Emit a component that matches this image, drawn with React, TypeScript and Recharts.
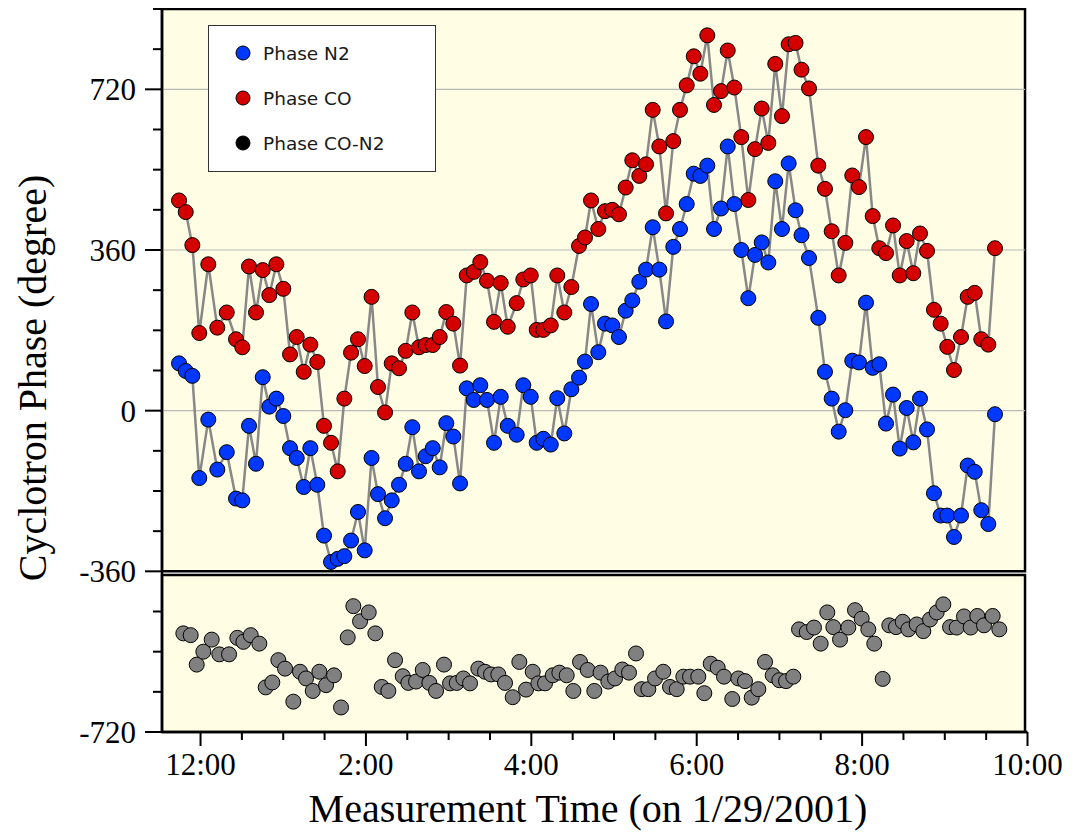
import React from 'react';
import { ComposedChart, Scatter, XAxis, YAxis, ReferenceArea, ReferenceLine, Legend, Label } from 'recharts';

// measurement times (decimal hours) shared by Phase N2 and Phase CO
const times = [
  11.740, 11.821, 11.901, 11.985, 12.094, 12.203, 12.317, 12.429, 12.505, 12.586,
  12.671, 12.752, 12.832, 12.917, 13.001, 13.082, 13.163, 13.248, 13.328, 13.412,
  13.493, 13.578, 13.659, 13.739, 13.820, 13.904, 13.985, 14.068, 14.146, 14.231,
  14.312, 14.400, 14.481, 14.561, 14.642, 14.723, 14.808, 14.892, 14.972, 15.057,
  15.138, 15.219, 15.304, 15.383, 15.464, 15.549, 15.630, 15.715, 15.823, 15.903,
  15.993, 16.065, 16.145, 16.235, 16.314, 16.399, 16.484, 16.577, 16.649, 16.722,
  16.810, 16.891, 16.979, 17.060, 17.141, 17.221, 17.306, 17.387, 17.468, 17.548,
  17.629, 17.717, 17.798, 17.879, 17.964, 18.044, 18.128, 18.209, 18.294, 18.375,
  18.455, 18.539, 18.624, 18.705, 18.786, 18.866, 18.950, 19.031, 19.112, 19.195,
  19.267, 19.358, 19.470, 19.551, 19.632, 19.717, 19.797, 19.881, 19.962, 20.047,
  20.128, 20.208, 20.289, 20.374, 20.455, 20.539, 20.619, 20.700, 20.785, 20.869,
  20.950, 21.030, 21.111, 21.196, 21.277, 21.362, 21.441, 21.526, 21.607,
];

const phaseN2 = [
  106, 89, 78, -151, -20, -132, -93, -197, -201, -34,
  -119, 75, 9, 27, -12, -84, -106, -171, -84, -166,
  -280, -339, -332, -326, -291, -227, -313, -106, -187, -241,
  -201, -166, -119, -37, -136, -102, -84, -127, -28, -58,
  -163, 50, 24, 57, 24, -72, 31, -34, -54, 57,
  31, -72, -63, -76, 28, -51, 48, 74, 110, 239,
  131, 195, 191, 165, 224, 247, 289, 316, 411, 316,
  200, 367, 407, 463, 531, 526, 549, 407, 453, 592,
  463, 360, 252, 349, 377, 332, 514, 407, 554, 449,
  393, 342, 208, 87, 27, -47, 1, 112, 108, 242,
  96, 104, -29, 36, -85, 6, -71, 27, -42, -185,
  -235, -235, -283, -235, -123, -137, -223, -254, -8,
];

const phaseCO = [
  471, 445, 371, 174, 328, 186, 220, 160, 142, 323,
  220, 315, 259, 328, 273, 126, 165, 87, 148, 109,
  -34, -72, -136, 27, 130, 160, 100, 255, 53, -4,
  106, 95, 134, 220, 142, 147, 147, 165, 221, 195,
  101, 303, 311, 333, 291, 199, 286, 188, 241, 294,
  303, 181, 181, 191, 303, 220, 277, 369, 388, 471,
  407, 447, 450, 440, 500, 561, 526, 552, 674, 592,
  442, 604, 674, 729, 794, 755, 841, 685, 716, 807,
  724, 613, 472, 586, 677, 600, 777, 660, 821, 824,
  764, 722, 549, 497, 402, 303, 376, 527, 501, 613,
  436, 364, 353, 415, 303, 380, 308, 397, 358, 226,
  195, 143, 91, 165, 255, 264, 160, 148, 364,
];

// Phase CO-N2 (lower panel) has its own time stamps
const diffTimes = [
  11.792, 11.881, 11.954, 12.034, 12.135, 12.227, 12.345, 12.445, 12.518, 12.607,
  12.711, 12.788, 12.868, 12.941, 13.022, 13.122, 13.203, 13.276, 13.357, 13.437,
  13.518, 13.614, 13.699, 13.780, 13.848, 13.929, 14.034, 14.114, 14.191, 14.271,
  14.352, 14.445, 14.513, 14.606, 14.687, 14.767, 14.848, 14.944, 15.017, 15.098,
  15.178, 15.259, 15.359, 15.440, 15.513, 15.601, 15.682, 15.775, 15.855, 15.936,
  16.017, 16.085, 16.166, 16.259, 16.339, 16.428, 16.508, 16.589, 16.682, 16.762,
  16.837, 16.931, 17.012, 17.100, 17.181, 17.266, 17.335, 17.415, 17.496, 17.596,
  17.677, 17.758, 17.838, 17.919, 18.019, 18.092, 18.169, 18.254, 18.330, 18.430,
  18.503, 18.584, 18.665, 18.745, 18.826, 18.919, 18.999, 19.080, 19.168, 19.237,
  19.330, 19.418, 19.499, 19.579, 19.652, 19.733, 19.833, 19.914, 19.995, 20.075,
  20.147, 20.249, 20.329, 20.410, 20.491, 20.559, 20.660, 20.740, 20.821, 20.902,
  20.982, 21.063, 21.144, 21.232, 21.313, 21.393, 21.474, 21.579, 21.659,
];

const phaseDiff = [
  -499, -503, -569, -540, -513, -546, -546, -509, -518, -503,
  -522, -620, -609, -559, -578, -652, -585, -600, -628, -585,
  -615, -593, -665, -508, -438, -472, -452, -499, -619, -628,
  -559, -595, -610, -607, -581, -610, -628, -569, -611, -610,
  -600, -611, -578, -585, -591, -591, -610, -642, -563, -625,
  -585, -611, -611, -593, -587, -593, -628, -563, -581, -628,
  -587, -607, -600, -580, -587, -544, -624, -624, -600, -585,
  -619, -624, -596, -596, -596, -633, -567, -576, -596, -646,
  -600, -606, -643, -624, -563, -593, -604, -606, -596, -490,
  -496, -486, -522, -452, -485, -513, -486, -447, -466, -490,
  -522, -601, -481, -485, -473, -490, -479, -494, -468, -452,
  -434, -485, -486, -461, -486, -460, -481, -460, -490,
];

const hourTicks = [12, 12.5, 13, 13.5, 14, 14.5, 15, 15.5, 16, 16.5, 17, 17.5, 18, 18.5, 19, 19.5, 20, 20.5, 21, 21.5, 22];
const hourLabels: Record<number, string> = { 12: '12:00', 14: '2:00', 16: '4:00', 18: '6:00', 20: '8:00', 22: '10:00' };
const degreeTicks = [-720, -630, -540, -450, -360, -270, -180, -90, 0, 90, 180, 270, 360, 450, 540, 630, 720, 810, 900];
const degreeLabels = [-720, -360, 0, 360, 720];
const gridValues = [0, 360, 720];

const legendItems = [
  { name: 'Phase N2', color: '#0038ff' },
  { name: 'Phase CO', color: '#d40000' },
  { name: 'Phase CO-N2', color: '#000000' },
];

const n2Data = times.map((t, i) => ({ t, v: phaseN2[i] }));
const coData = times.map((t, i) => ({ t, v: phaseCO[i] }));
const diffData = diffTimes.map((t, i) => ({ t, v: phaseDiff[i] }));

const X_MIN = 11.534;
const X_BOX = 21.97;
const SERIF = '"Liberation Serif", "Times New Roman", serif';
const PANEL_BG = '#fffee4';

const dot = (fill: string) => (p: any) => (
  <circle cx={p.cx} cy={p.cy} r={7.5} fill={fill} stroke="#000" strokeWidth={1} />
);

const YTick = (props: any) => {
  const { x, y, payload } = props;
  const major = degreeLabels.includes(payload.value);
  return (
    <g>
      <line x1={x - (major ? 17 : 9)} x2={x} y1={y} y2={y} stroke="#000" strokeWidth={2} />
      {major && (
        <text x={x - 26} y={y + 11} textAnchor="end" fontFamily={SERIF} fontSize={31} fill="#000">
          {payload.value}
        </text>
      )}
    </g>
  );
};

const XTick = (props: any) => {
  const { x, y, payload } = props;
  const label = hourLabels[payload.value];
  return (
    <g>
      <line x1={x} x2={x} y1={y} y2={y + (label ? 14 : 8)} stroke="#000" strokeWidth={2} />
      {label && (
        <text x={x} y={y + 43} textAnchor="middle" fontFamily={SERIF} fontSize={31} fill="#000">
          {label}
        </text>
      )}
    </g>
  );
};

const renderLegend = () => (
  <svg width={228} height={147} style={{ display: 'block' }}>
    <rect x={0.5} y={0.5} width={227} height={146} fill="#fff" stroke="#333" strokeWidth={1} />
    {legendItems.map((item, i) => (
      <g key={item.name}>
        <circle cx={35} cy={28 + i * 45} r={7} fill={item.color} stroke="#000" strokeWidth={1} />
        <text x={55} y={34.5 + i * 45} fontFamily='"DejaVu Sans", Verdana, sans-serif' fontSize={18.5} fill="#1a1a1a">
          {item.name}
        </text>
      </g>
    ))}
  </svg>
);

export default function App() {
  return (
    <div style={{ width: 1074, height: 825 }}>
      <ComposedChart width={1074} height={825} margin={{ top: 1, right: 54.5, bottom: 0, left: 0 }}>
        <XAxis
          type="number"
          dataKey="t"
          domain={[X_MIN, 22]}
          allowDataOverflow
          ticks={hourTicks}
          interval={0}
          height={101}
          tickLine={false}
          tickSize={0}
          tickMargin={0}
          tick={XTick}
          axisLine={{ stroke: '#000', strokeWidth: 2.5 }}
        >
          <Label
            content={() => (
              <text x={580} y={814} textAnchor="middle" fontFamily={SERIF} fontSize={40} fill="#000">
                Measurement Time (on 1/29/2001)
              </text>
            )}
          />
        </XAxis>
        <YAxis
          type="number"
          dataKey="v"
          domain={[-720, 900]}
          allowDataOverflow
          ticks={degreeTicks}
          interval={0}
          width={154}
          tickLine={false}
          tickSize={0}
          tickMargin={0}
          tick={YTick}
          axisLine={{ stroke: '#000', strokeWidth: 2.5 }}
        >
          <Label
            content={() => (
              <text
                transform="translate(38, 370) rotate(-90)"
                textAnchor="middle"
                fontFamily={SERIF}
                fontSize={40}
                fill="#000"
              >
                Cyclotron Phase (degree)
              </text>
            )}
          />
        </YAxis>
        <ReferenceArea x1={X_MIN} x2={X_BOX} y1={-360} y2={900} fill={PANEL_BG} fillOpacity={1} stroke="#000" strokeWidth={2.5} />
        <ReferenceArea x1={X_MIN} x2={X_BOX} y1={-720} y2={-368} fill={PANEL_BG} fillOpacity={1} stroke="#000" strokeWidth={2.5} />
        {gridValues.map((g) => (
          <ReferenceLine
            key={g}
            segment={[{ x: X_MIN, y: g }, { x: X_BOX, y: g }]}
            stroke="#b8b8b8"
            strokeWidth={1.2}
          />
        ))}
        <Scatter
          name="Phase N2"
          data={n2Data}
          line={{ stroke: '#888', strokeWidth: 2.5 }}
          shape={dot('#0038ff')}
          isAnimationActive={false}
        />
        <Scatter
          name="Phase CO"
          data={coData}
          line={{ stroke: '#888', strokeWidth: 2.5 }}
          shape={dot('#d40000')}
          isAnimationActive={false}
        />
        <Scatter name="Phase CO-N2" data={diffData} shape={dot('#808080')} isAnimationActive={false} />
        <Legend
          layout="vertical"
          align="center"
          verticalAlign="middle"
          content={renderLegend}
          wrapperStyle={{ left: 200, top: 17, width: 228, height: 147 }}
        />
      </ComposedChart>
    </div>
  );
}
